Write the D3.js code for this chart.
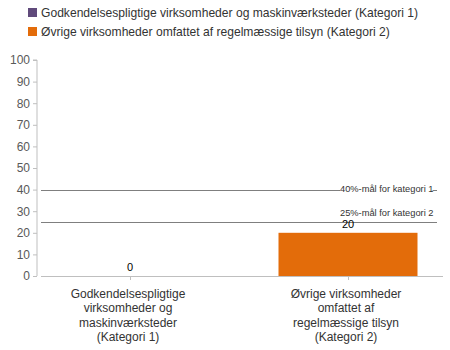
<!DOCTYPE html>
<html>
<head>
<meta charset="utf-8">
<script src="https://cdn.jsdelivr.net/npm/d3@7/dist/d3.min.js"></script>
<style>
  body { margin: 0; background: #fff; }
  text { font-family: "Liberation Sans", Arial, sans-serif; }
</style>
</head>
<body>
<svg id="chart" width="450" height="350"></svg>
<script>
// Categories and series
const categories = [
  ["Godkendelsespligtige", "virksomheder og", "maskinværksteder", "(Kategori 1)"],
  ["Øvrige virksomheder", "omfattet af", "regelmæssige tilsyn", "(Kategori 2)"]
];
const seriesNames = [
  "Godkendelsespligtige virksomheder og maskinværksteder (Kategori 1)",
  "Øvrige virksomheder omfattet af regelmæssige tilsyn (Kategori 2)"
];
const seriesColors = ["#604a7b", "#e36c0a"];
const barValues = [0, 20];          // one value per category, coloured by its series
const yTicks = [0, 10, 20, 30, 40, 50, 60, 70, 80, 90, 100];
const targetValues = [40, 25];
const targetLabels = ["40%-mål for kategori 1", "25%-mål for kategori 2"];

const svg = d3.select("#chart");
const x = d3.scaleBand().domain([0, 1]).range([21, 457]);
const y = d3.scaleLinear().domain([0, 100]).range([276, 60]);
const cx = i => x(i) + x.bandwidth() / 2;

// Legend
const legend = svg.append("g");
seriesNames.forEach((name, i) => {
  const row = legend.append("g").attr("transform", `translate(28, ${8 + i * 19})`);
  row.append("rect").attr("width", 9).attr("height", 9).attr("fill", seriesColors[i]);
  row.append("text").attr("x", 13).attr("y", 9)
    .attr("font-size", 12.1).attr("fill", "#333")
    .text(name);
});

// Y axis
const yAxis = svg.append("g").attr("transform", "translate(37,0)")
  .call(d3.axisLeft(y).tickValues(yTicks).tickSize(4).tickPadding(3));
yAxis.select(".domain").attr("stroke", "#bfbfbf").attr("d", `M-4,${y(100)}H0V${y(0)}`);
yAxis.selectAll(".tick line").attr("stroke", "#bfbfbf");
yAxis.selectAll(".tick text").attr("font-size", 12).attr("fill", "#595959")
  .style("font-family", "'Liberation Sans', Arial, sans-serif");

// X axis line and category ticks
svg.append("line").attr("x1", 41).attr("x2", 443).attr("y1", y(0) + 0.5).attr("y2", y(0) + 0.5)
  .attr("stroke", "#bfbfbf");
svg.selectAll(".xtick").data(categories).join("line")
  .attr("x1", (d, i) => Math.round(cx(i)) + 0.5)
  .attr("x2", (d, i) => Math.round(cx(i)) + 0.5)
  .attr("y1", y(0)).attr("y2", y(0) + 4).attr("stroke", "#bfbfbf");

// Category labels
categories.forEach((lines, i) => {
  const t = svg.append("text")
    .attr("text-anchor", "middle").attr("font-size", 12).attr("fill", "#333");
  lines.forEach((ln, j) => {
    t.append("tspan").attr("x", cx(i) - 2).attr("y", 298 + j * 14.3).text(ln);
  });
});

// Target lines
targetValues.forEach(v => {
  svg.append("line").attr("x1", 41).attr("x2", 437)
    .attr("y1", Math.round(y(v)) + 0.5).attr("y2", Math.round(y(v)) + 0.5)
    .attr("stroke", "#7f7f7f");
});

// Target labels: the 40% label sits on its line, the 25% label above its line
const lbl40 = svg.append("text").attr("x", 340).attr("y", y(40) + 2)
  .attr("font-size", 9.3).attr("fill", "#333").text(targetLabels[0]);
const bb = lbl40.node().getBBox();
svg.append("rect").attr("x", bb.x).attr("y", bb.y).attr("width", bb.width - 1).attr("height", bb.height)
  .attr("fill", "#fff");
lbl40.raise();
svg.append("text").attr("x", 340).attr("y", y(25) - 6)
  .attr("font-size", 9.3).attr("fill", "#333").text(targetLabels[1]);

// Bars
const barW = 139;
svg.selectAll(".bar").data(barValues).join("rect")
  .attr("x", (d, i) => cx(i) - barW / 2)
  .attr("y", d => y(d))
  .attr("width", barW)
  .attr("height", d => y(0) - y(d))
  .attr("fill", (d, i) => seriesColors[i]);

// Value labels
svg.selectAll(".val").data(barValues).join("text")
  .attr("x", (d, i) => cx(i))
  .attr("y", d => y(d) - 5)
  .attr("text-anchor", "middle").attr("font-size", 11).attr("fill", "#000")
  .text(d => d);
</script>
</body>
</html>
